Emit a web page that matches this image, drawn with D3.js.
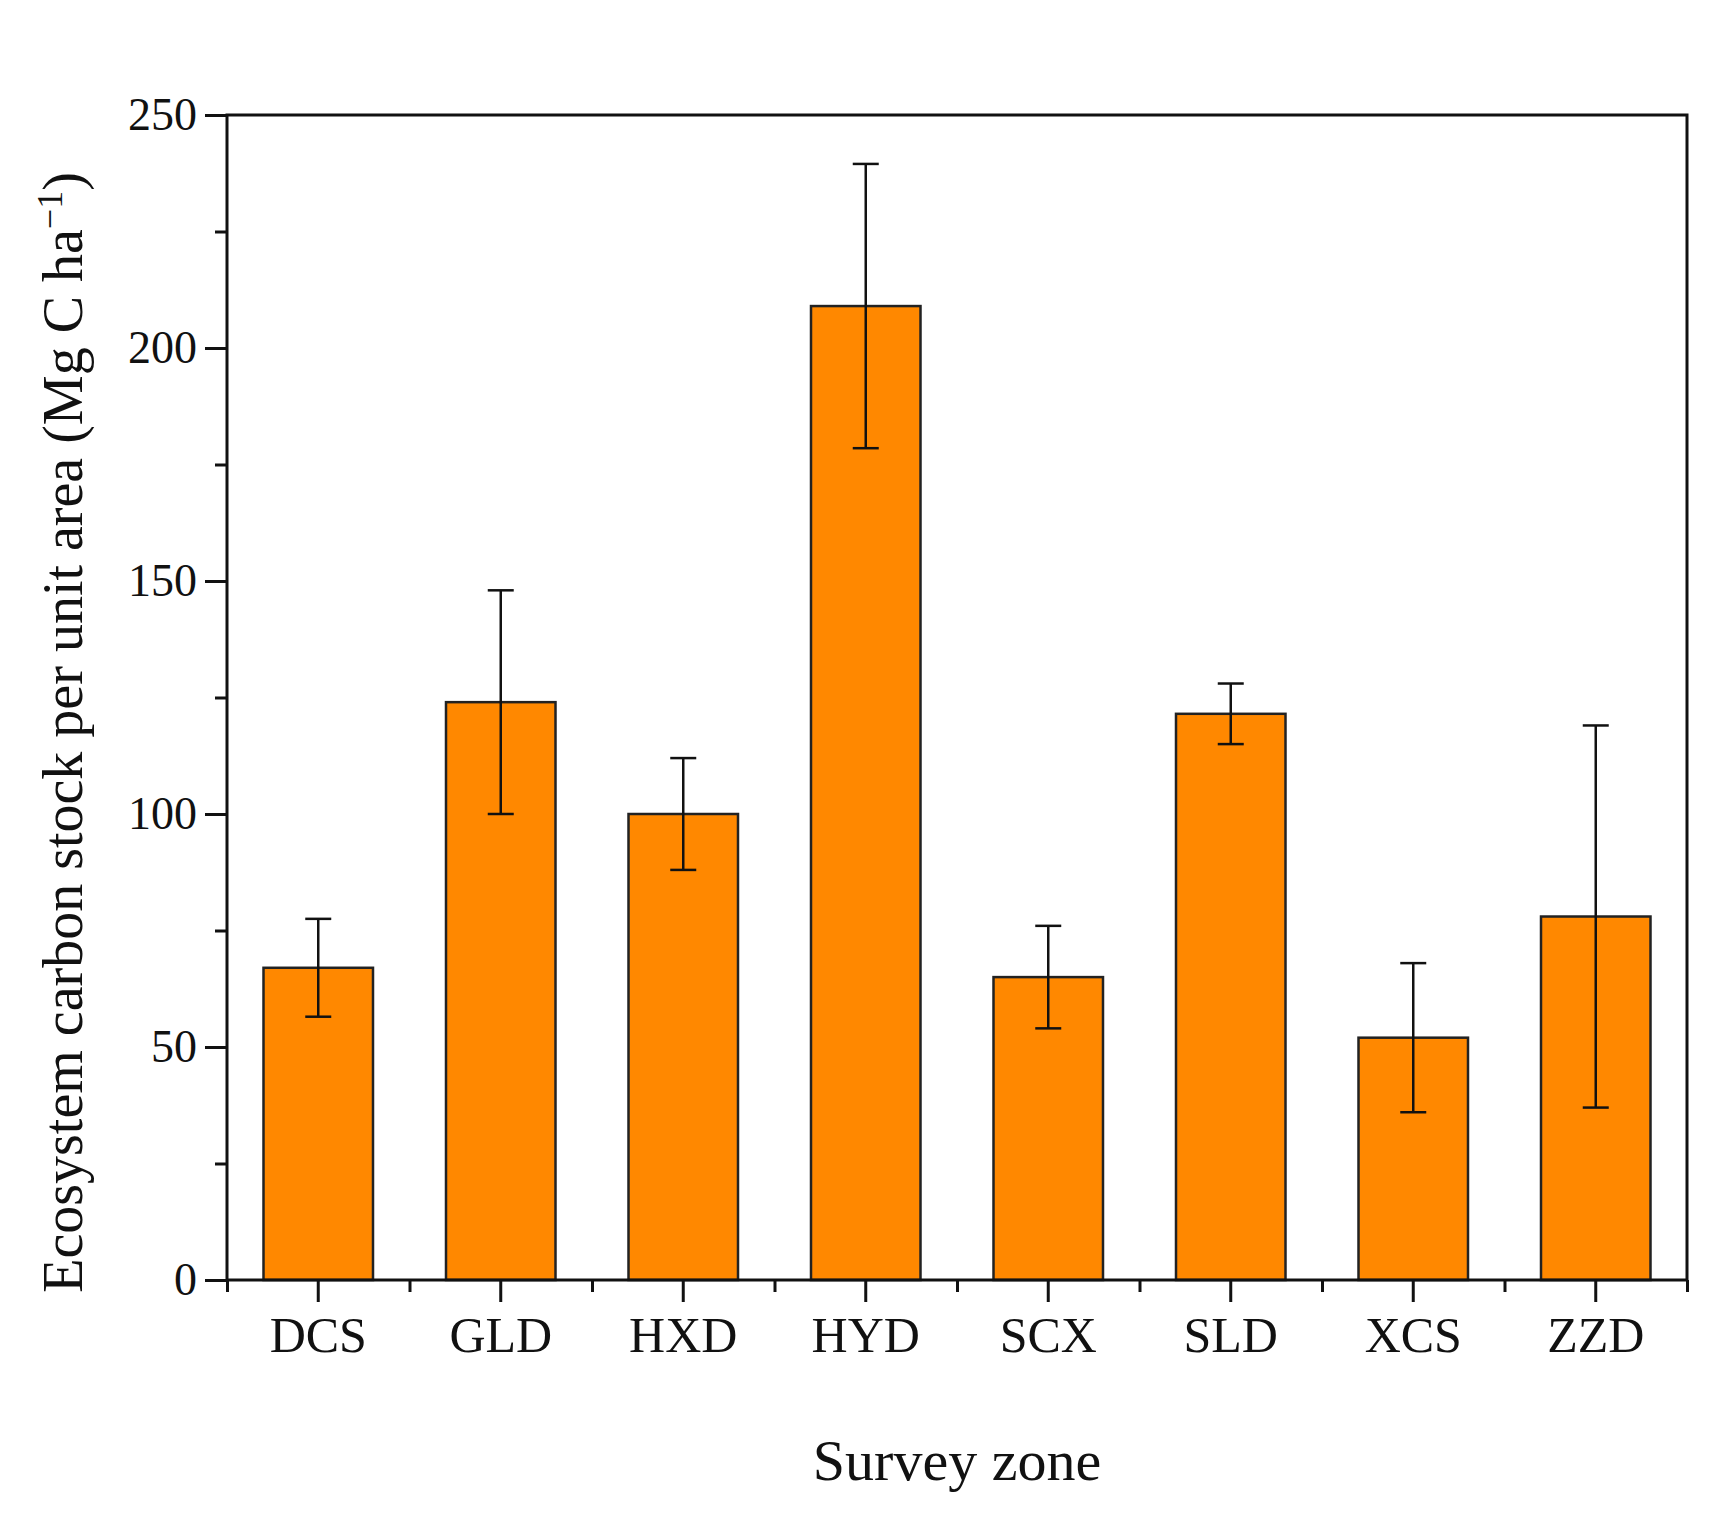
<!DOCTYPE html>
<html><head><meta charset="utf-8">
<script src="https://cdn.jsdelivr.net/npm/d3@7"></script>
<style>body{margin:0;background:#fff}</style>
</head><body>
<script>
// data
const zones = ['DCS', 'GLD', 'HXD', 'HYD', 'SCX', 'SLD', 'XCS', 'ZZD']
const means = [67, 124, 100, 209, 65, 121.5, 52, 78]
const errs = [10.5, 24, 12, 30.5, 11, 6.5, 16, 41]
const yTicks = [0, 50, 100, 150, 200, 250]

const m = {width: 1725, height: 1515, left: 227, right: 1687, top: 115, bottom: 1280}
const font = '"Liberation Serif", "DejaVu Serif", serif'

const svg = d3.select('body').append('svg')
    .attr('width', m.width)
    .attr('height', m.height)

const x = d3.scaleBand().domain(zones).range([m.left, m.right]).padding(0)
const y = d3.scaleLinear().domain([0, 250]).range([m.bottom, m.top])
const bw = x.bandwidth() * 0.6

// bars
svg.selectAll('rect.bar').data(zones).join('rect')
    .attr('x', d => x(d) + (x.bandwidth() - bw) / 2)
    .attr('y', (d, i) => y(means[i]))
    .attr('width', bw)
    .attr('height', (d, i) => y(0) - y(means[i]))
    .attr('fill', '#ff8800')
    .attr('stroke', '#222')
    .attr('stroke-width', 2.5)

// error bars
const eb = svg.append('g').attr('stroke', '#111').attr('stroke-width', 2.5)
zones.forEach((d, i) => {
    const cx = x(d) + x.bandwidth() / 2
    eb.append('line').attr('x1', cx).attr('x2', cx).attr('y1', y(means[i] - errs[i])).attr('y2', y(means[i] + errs[i]))
    ;[means[i] - errs[i], means[i] + errs[i]].forEach(v =>
        eb.append('line').attr('x1', cx - 13).attr('x2', cx + 13).attr('y1', y(v)).attr('y2', y(v)))
})

// frame
svg.append('rect').attr('x', m.left).attr('y', m.top)
    .attr('width', m.right - m.left).attr('height', m.bottom - m.top)
    .attr('fill', 'none').attr('stroke', '#111').attr('stroke-width', 3)

// y axis, major + minor ticks
const yAxis = svg.append('g').attr('transform', `translate(${m.left},0)`)
    .call(d3.axisLeft(y).tickValues(yTicks).tickSize(22).tickPadding(8))
yAxis.append('g').call(d3.axisLeft(y).tickValues(d3.range(25, 250, 50)).tickSize(12).tickFormat(''))
yAxis.selectAll('.domain').remove()
yAxis.selectAll('line').attr('stroke', '#111').attr('stroke-width', 3)
yAxis.selectAll('text').attr('font-family', font).attr('font-size', 46).attr('fill', '#111').attr('dy', '0.32em')

// x axis
const xAxis = svg.append('g').attr('transform', `translate(0,${m.bottom})`)
    .call(d3.axisBottom(x).tickSize(22).tickPadding(14))
xAxis.append('g').call(d3.axisBottom(d3.scaleLinear().domain([0, 8]).range([m.left, m.right]))
    .tickValues(d3.range(0, 9)).tickSize(12).tickFormat(''))
xAxis.selectAll('.domain').remove()
xAxis.selectAll('line').attr('stroke', '#111').attr('stroke-width', 3)
xAxis.selectAll('text').attr('font-family', font).attr('font-size', 50).attr('fill', '#111')

// axis titles
svg.append('text')
    .attr('x', (m.left + m.right) / 2).attr('y', 1480)
    .attr('text-anchor', 'middle')
    .attr('font-family', font).attr('font-size', 58).attr('fill', '#111')
    .text('Survey zone')

const yl = svg.append('text')
    .attr('transform', `translate(82, ${(m.top + m.bottom) / 2 + 35})rotate(-90)`)
    .attr('text-anchor', 'middle')
    .attr('font-family', font).attr('font-size', 56).attr('fill', '#111')
yl.append('tspan').text('Ecosystem carbon stock per unit area (Mg C ha')
yl.append('tspan').attr('dy', -20).attr('font-size', 36).text('\u22121')
yl.append('tspan').attr('dy', 20).text(')')
</script>
</body></html>
